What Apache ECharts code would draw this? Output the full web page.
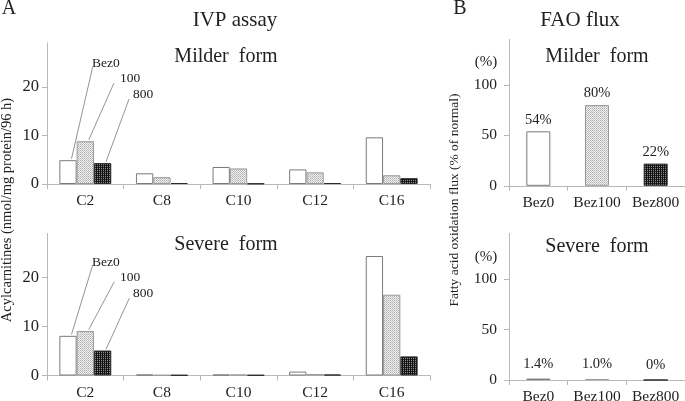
<!DOCTYPE html>
<html><head><meta charset="utf-8">
<script src="https://cdn.jsdelivr.net/npm/echarts@6/dist/echarts.min.js"></script>
<style>html,body{margin:0;padding:0;background:#fff}#c{width:685px;height:401px}</style>
</head><body><div id="c"></div>
<script>
// ---- data ----
const categoriesA = ['C2', 'C8', 'C10', 'C12', 'C16'];
const milderBez0 = [4.9, 2.2, 3.5, 3.0, 9.6];
const milder100 = [8.8, 1.4, 3.2, 2.4, 1.8];
const milder800 = [4.3, 0.2, 0.1, 0.2, 1.2];
const severeBez0 = [8.1, 0.2, 0.2, 0.8, 24.4];
const severe100 = [9.1, 0.1, 0.2, 0.3, 16.5];
const severe800 = [5.1, 0.1, 0.1, 0.2, 3.9];
const categoriesB = ['Bez0', 'Bez100', 'Bez800'];
const faoMilder = [54, 80, 22];
const faoSevere = [1.4, 1.0, 0];
const faoMilderLabels = ['54%', '80%', '22%'];
const faoSevereLabels = ['1.4%', '1.0%', '0%'];
const yTicksA = [0, 10, 20];
const yTicksB = [0, 50, 100];
const seriesNamesA = ['Bez0', '100', '800'];

// ---- patterns ----
function makePattern(cells) {
  const c = document.createElement('canvas');
  c.width = 2; c.height = 2;
  const ctx = c.getContext('2d');
  cells.forEach((col, i) => { ctx.fillStyle = col; ctx.fillRect(i % 2, Math.floor(i / 2), 1, 1); });
  return { image: c, repeat: 'repeat' };
}
const fills = ['#ffffff',
  makePattern(['#b0b0b0', '#f0f0f0', '#f0f0f0', '#c4c4c4']),
  makePattern(['#111111', '#8a8a8a', '#111111', '#262626'])];
const borders = ['#7a7a7a', '#9a9a9a', '#2a2a2a'];

const FONT = 'Liberation Serif';
const TXT = '#222';
const AX = '#b8b8b8';

const grids = [
  { left: 47, top: 43, width: 383, height: 141 },
  { left: 47, top: 233.5, width: 383, height: 142 },
  { left: 509, top: 39.5, width: 176, height: 146.3 },
  { left: 509, top: 233.5, width: 176, height: 146.5 }
].map(g => Object.assign({ containLabel: false, outerBoundsMode: 'none' }, g));

function xAxis(gi, cats) {
  return {
    type: 'category', gridIndex: gi, data: cats,
    axisLine: { lineStyle: { color: AX, width: 1 } },
    axisTick: { show: true, length: 5, lineStyle: { color: AX } },
    axisLabel: { fontFamily: FONT, fontSize: 15.5, color: TXT, margin: 9, interval: 0, hideOverlap: false }
  };
}
function yAxis(gi, max, ticks, fs, margin) {
  return {
    type: 'value', gridIndex: gi, min: 0, max: max,
    splitLine: { show: false },
    axisLine: { show: true, lineStyle: { color: AX, width: 1 } },
    axisTick: { show: true, length: 5, lineStyle: { color: AX }, customValues: ticks },
    axisLabel: { fontFamily: FONT, fontSize: fs, color: TXT, margin: margin, customValues: ticks }
  };
}

const seriesA = [];
[[milderBez0, milder100, milder800], [severeBez0, severe100, severe800]].forEach((set, gi) => {
  set.forEach((vals, k) => {
    seriesA.push({
      type: 'bar', name: seriesNamesA[k], xAxisIndex: gi, yAxisIndex: gi,
      data: vals, barWidth: 17.3, barGap: '0%',
      itemStyle: { color: fills[k], borderColor: borders[k], borderWidth: 1 },
      animation: false
    });
  });
});

function faoSeries(gi, vals, labels, dist) {
  return {
    type: 'bar', xAxisIndex: gi, yAxisIndex: gi, barWidth: 24, animation: false,
    data: vals.map((v, i) => ({ value: v, itemStyle: { color: fills[i], borderColor: borders[i], borderWidth: 1 } })),
    label: {
      show: true, position: 'top', distance: dist, fontFamily: FONT, fontSize: 14.5, color: TXT,
      formatter: p => labels[p.dataIndex]
    }
  };
}

const chart = echarts.init(document.getElementById('c'), null, { renderer: 'canvas' });
chart.setOption({
  animation: false,
  backgroundColor: '#fff',
  grid: grids,
  xAxis: [xAxis(0, categoriesA), xAxis(1, categoriesA), xAxis(2, categoriesB), xAxis(3, categoriesB)],
  yAxis: [yAxis(0, 29, yTicksA, 16.5, 8), yAxis(1, 29, yTicksA, 16.5, 8), yAxis(2, 145, yTicksB, 15.5, 12), yAxis(3, 145, yTicksB, 15.5, 12)],
  series: seriesA.concat([faoSeries(2, faoMilder, faoMilderLabels, 4), faoSeries(3, faoSevere, faoSevereLabels, 7)])
});

// ---- text & annotations ----
function txt(x, y, s, size, align, extra) {
  return Object.assign({
    type: 'text', x: x, y: y, silent: true,
    style: { text: s, fontFamily: FONT, fontSize: size, fill: TXT, align: align || 'center', verticalAlign: 'middle' }
  }, extra || {});
}
const g = [
  txt(9, 9, 'A', 20, 'center'),
  txt(235, 20, 'IVP assay', 21),
  txt(226, 57, 'Milder  form', 20),
  txt(226, 245, 'Severe  form', 20),
  txt(460, 9, 'B', 20, 'center'),
  txt(580, 20, 'FAO flux', 21),
  txt(597, 57, 'Milder  form', 20),
  txt(597, 247, 'Severe  form', 20),
  txt(486, 62, '(%)', 15),
  txt(486, 257, '(%)', 15),
  txt(7, 210, 'Acylcarnitines (nmol/mg protein/96 h)', 14.5, 'center', { rotation: Math.PI / 2 }),
  txt(454, 200, 'Fatty acid oxidation flux (% of normal)', 13.5, 'center', { rotation: Math.PI / 2 })
];
// leader annotations for C2 group
const annot = [
  { gi: 0, sets: [milderBez0, milder100, milder800], textY: [63, 78, 94], textX: [92, 120, 133], upper: [[92.7, 67], [114, 83], [129, 99]] },
  { gi: 1, sets: [severeBez0, severe100, severe800], textY: [262, 277, 293], textX: [92, 120, 133], upper: [[92.7, 265], [114.3, 281.7], [129.3, 298.3]] }
];
const offs = [-17.3, 0, 17.3];
annot.forEach(a => {
  a.sets.forEach((vals, k) => {
    const p = chart.convertToPixel({ gridIndex: a.gi }, [0, vals[0]]);
    g.push({
      type: 'line', silent: true,
      shape: { x1: p[0] + offs[k] + 3.5, y1: p[1] - 1.5, x2: a.upper[k][0], y2: a.upper[k][1] },
      style: { stroke: '#777', lineWidth: 0.8 }
    });
    g.push(txt(a.textX[k], a.textY[k], seriesNamesA[k], 13.5, 'left'));
  });
});
chart.setOption({ graphic: g });
</script></body></html>
